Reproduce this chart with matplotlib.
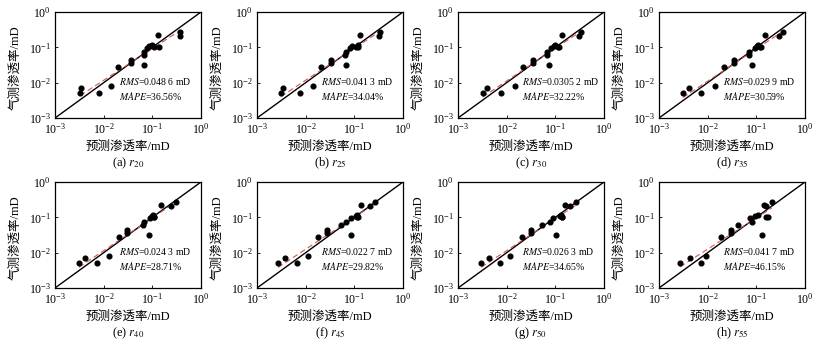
import numpy as np
import matplotlib
matplotlib.use('Agg')
import matplotlib.pyplot as plt

plt.rcParams['font.family'] = ['Liberation Serif', 'Noto Sans CJK SC']
plt.rcParams['mathtext.fontset'] = 'stix'

# measured (gas) permeability, mD - same samples in every panel
y_meas = [0.0050, 0.0070, 0.0050, 0.0080, 0.028, 0.044, 0.037, 0.060, 0.075,
          0.031, 0.098, 0.110, 0.120, 0.100, 0.220, 0.105, 0.270, 0.210]

# predicted permeability for each pore-throat radius model
x_pred = {
    'r20': [0.0033, 0.0034, 0.0080, 0.0140, 0.020, 0.036, 0.036, 0.067, 0.069,
            0.069, 0.076, 0.085, 0.097, 0.108, 0.128, 0.134, 0.370, 0.370],
    'r25': [0.0031, 0.0035, 0.0075, 0.0140, 0.021, 0.033, 0.033, 0.065, 0.066,
            0.067, 0.080, 0.088, 0.120, 0.106, 0.133, 0.120, 0.340, 0.320],
    'r30': [0.0032, 0.0039, 0.0075, 0.0146, 0.0217, 0.0347, 0.0347, 0.0685, 0.0685,
            0.074, 0.083, 0.092, 0.100, 0.115, 0.139, 0.120, 0.340, 0.300],
    'r35': [0.0031, 0.0042, 0.0074, 0.0142, 0.0218, 0.034, 0.034, 0.0705, 0.0705,
            0.081, 0.092, 0.103, 0.110, 0.120, 0.149, 0.125, 0.350, 0.290],
    'r40': [0.0031, 0.0041, 0.0072, 0.0131, 0.0203, 0.0306, 0.0306, 0.064, 0.067,
            0.084, 0.089, 0.100, 0.105, 0.110, 0.153, 0.110, 0.300, 0.240],
    'r45': [0.0027, 0.0038, 0.0067, 0.0112, 0.0177, 0.028, 0.028, 0.053, 0.066,
            0.084, 0.084, 0.108, 0.115, 0.112, 0.138, 0.120, 0.265, 0.206],
    'r50': [0.0030, 0.0043, 0.0074, 0.0115, 0.0203, 0.031, 0.031, 0.052, 0.077,
            0.105, 0.089, 0.122, 0.130, 0.140, 0.155, 0.135, 0.270, 0.200],
    'r55': [0.0027, 0.0043, 0.0074, 0.0093, 0.0188, 0.030, 0.030, 0.042, 0.080,
            0.129, 0.074, 0.095, 0.108, 0.160, 0.143, 0.170, 0.207, 0.160],
}
letters = ['a', 'b', 'c', 'd', 'e', 'f', 'g', 'h']
rms_txt = ['0.048 6', '0.041 3', '0.0305 2', '0.029 9', '0.024 3', '0.022 7', '0.026 3', '0.041 7']
mape_txt = ['36.56%', '34.04%', '32.22%', '30.59%', '28.71%', '29.82%', '34.65%', '46.15%']

W, H = 835, 355
fig = plt.figure(figsize=(W / 100, H / 100), dpi=100)

lefts = [55, 257, 458, 659]
tops = [12, 182]
aw, ah = 146, 106

for i, key in enumerate(x_pred):
    row, col = divmod(i, 4)
    l, t = lefts[col], tops[row]
    ax = fig.add_axes([l / W, 1 - (t + ah) / H, aw / W, ah / H])
    x = np.array(x_pred[key])
    y = np.array(y_meas)

    ax.plot([1e-3, 1], [1e-3, 1], color='black', lw=1.0, zorder=1)
    # log-log least squares fit (red dashed)
    k, b = np.polyfit(np.log10(x), np.log10(y), 1)
    xf = np.array([x.min(), x.max()])
    ax.plot(xf, 10 ** (k * np.log10(xf) + b), color='#d9534f', lw=0.8,
            ls=(0, (5, 3)), zorder=2)
    ax.plot(x, y, 'o', color='black', ms=3.4, zorder=3)

    ax.set_xscale('log')
    ax.set_yscale('log')
    ax.set_xlim(1e-3, 1)
    ax.set_ylim(1e-3, 1)
    ax.set_xticks([1e-3, 1e-2, 1e-1, 1])
    ax.set_yticks([1e-3, 1e-2, 1e-1, 1])
    ax.minorticks_off()
    ax.tick_params(direction='in', length=2.5, width=0.6, labelsize=8.5, pad=3)
    for s in ax.spines.values():
        s.set_linewidth(0.9)

    ax.text(0.5, -29 / ah, '预测渗透率/mD', transform=ax.transAxes,
            fontsize=9, ha='center', va='center')
    ax.text(-40 / aw, 0.47, '气测渗透率/mD', transform=ax.transAxes,
            fontsize=9, ha='center', va='center', rotation=90)

    ax.text(0.44, 0.345, '$RMS$=' + rms_txt[i] + ' mD', transform=ax.transAxes,
            fontsize=7, va='center', ha='left')
    ax.text(0.44, 0.205, '$MAPE$=' + mape_txt[i], transform=ax.transAxes,
            fontsize=7, va='center', ha='left')
    ax.text(0.5, -45 / ah, '(' + letters[i] + ') $r_{' + key[1:] + '}$',
            transform=ax.transAxes, fontsize=9, ha='center', va='center')

fig.savefig('out.png', dpi=100)
